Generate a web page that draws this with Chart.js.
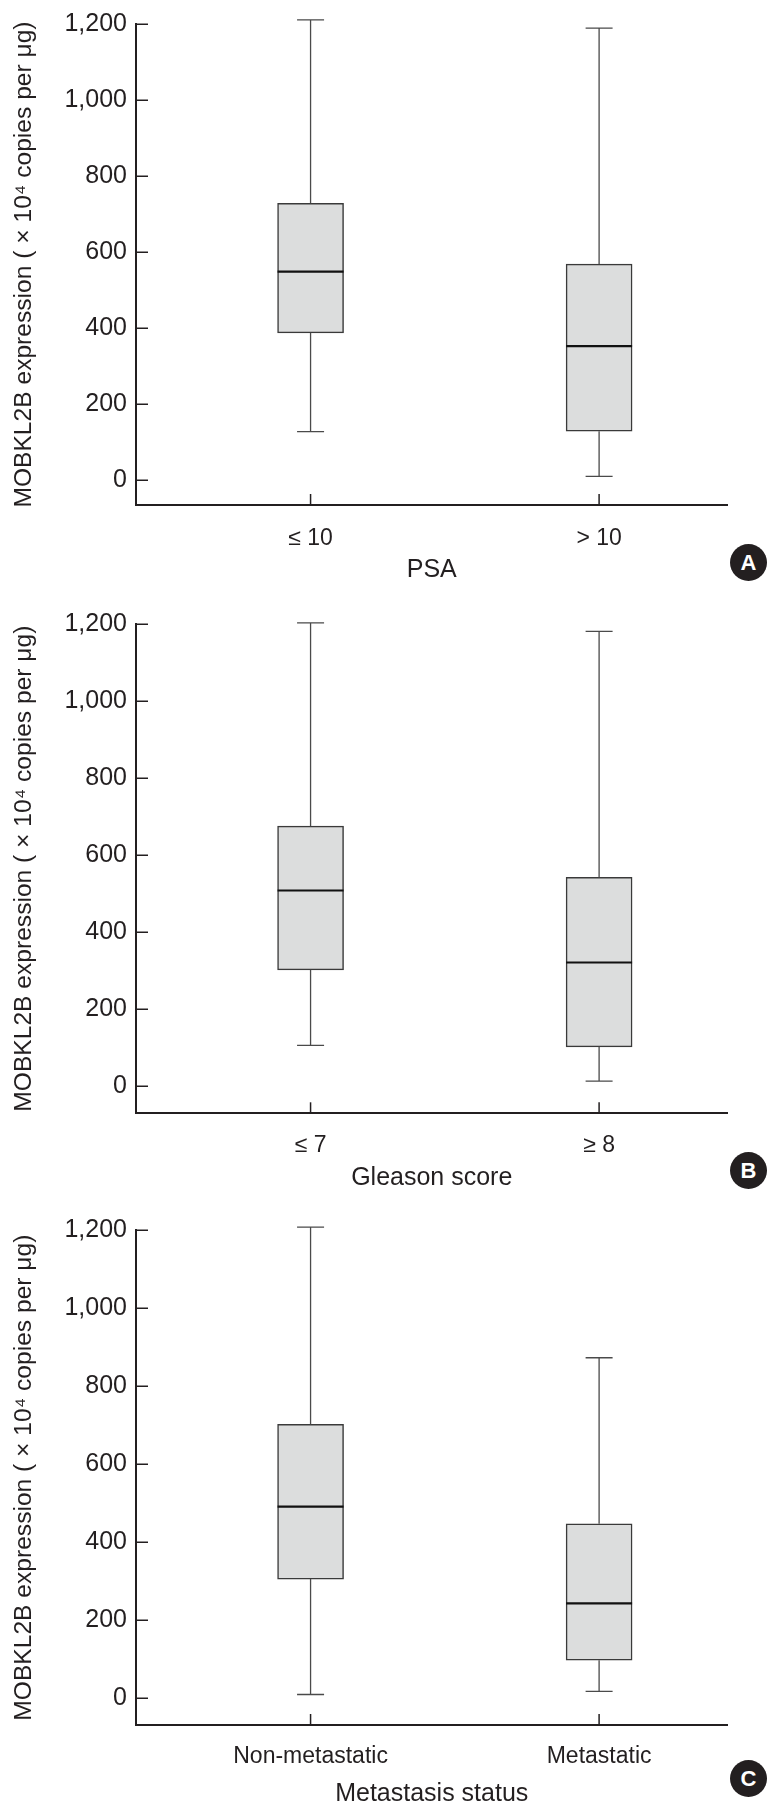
<!DOCTYPE html>
<html>
<head>
<meta charset="utf-8">
<script src="https://cdn.jsdelivr.net/npm/chart.js@4.4.1/dist/chart.umd.min.js"></script>
<style>
body { margin: 0; background: #fff; }
#wrap { position: relative; width: 771px; height: 1809px; }
.panel { position: absolute; left: 0; width: 771px; }
.tag { position: absolute; width: 37px; height: 37px; border-radius: 50%; background: #231f20; color: #fff;
       font: bold 22px "Liberation Sans", Arial, sans-serif; text-align: center; line-height: 37px; }
</style>
</head>
<body>
<div id="wrap">
    <div class="panel" style="top:0;height:600px"><canvas id="chartA"></canvas></div>
    <div class="panel" style="top:600px;height:605px"><canvas id="chartB"></canvas></div>
    <div class="panel" style="top:1205px;height:604px"><canvas id="chartC"></canvas></div>
    <div class="tag" style="left:730px;top:544px">A</div>
    <div class="tag" style="left:730px;top:1152px">B</div>
    <div class="tag" style="left:730px;top:1760px">C</div>
</div>
<script>
// values (x 10^4 copies per ug)
var psaLabels = ['\u2264 10', '> 10'];
var psaMin = [127, 9];
var psaQ1 = [387, 128];
var psaMedian = [548, 352];
var psaQ3 = [728, 568];
var psaMax = [1211, 1189];

var gleasonLabels = ['\u2264 7', '\u2265 8'];
var gleasonMin = [106, 13];
var gleasonQ1 = [302, 102];
var gleasonMedian = [508, 321];
var gleasonQ3 = [675, 542];
var gleasonMax = [1203, 1181];

var metLabels = ['Non-metastatic', 'Metastatic'];
var metMin = [9, 17];
var metQ1 = [305, 97];
var metMedian = [491, 243];
var metQ3 = [702, 447];
var metMax = [1208, 873];

var yTicks = [0, 200, 400, 600, 800, 1000, 1200];
var yTitle = 'MOBKL2B expression ( \u00d7 10\u2074 copies per \u03bcg)';

var axisColor = '#231f20';
var FONT = '"Liberation Sans", Arial, sans-serif';
var NARROW = '"Liberation Sans Narrow", "Arial Narrow", "Liberation Sans", sans-serif';
Chart.defaults.font.family = FONT;
Chart.defaults.color = axisColor;

// x range in category units, so the two boxes sit where they do in the figure
var X_MIN = 0.395, X_MAX = 2.445;
var PLOT_W = 591.5;
var unitPerPx = (X_MAX - X_MIN) / PLOT_W;
var BOX_PX = 66;
var CAP_PX = 27;

//tick marks point into the plot
var inwardTicks = {
    id: 'inwardTicks',
    afterDraw: function (chart) {
        var ctx = chart.ctx;
        var area = chart.chartArea;
        ctx.save();
        ctx.strokeStyle = axisColor;
        ctx.lineWidth = 1.5;
        chart.scales.y.ticks.forEach(function (t) {
            var py = Math.round(chart.scales.y.getPixelForValue(t.value)) + 0.25;
            ctx.beginPath();
            ctx.moveTo(area.left, py);
            ctx.lineTo(area.left + 12, py);
            ctx.stroke();
        });
        chart.scales.x.ticks.forEach(function (t) {
            var px = chart.scales.x.getPixelForValue(t.value);
            ctx.beginPath();
            ctx.moveTo(px, area.bottom);
            ctx.lineTo(px, area.bottom - 11);
            ctx.stroke();
        });
        ctx.restore();
    }
};

function makeBoxChart(canvasId, labels, mins, q1s, medians, q3s, maxs, xTitle, lay) {
    var xs = [1, 2];
    var capHalf = CAP_PX / 2 * unitPerPx;
    var boxHalf = BOX_PX / 2 * unitPerPx;
    var boxData = [];
    var whiskerData = [];
    var medianData = [];
    for (var i = 0; i < xs.length; i++) {
        var c = xs[i];
        boxData.push({ x: c, y: [q1s[i], q3s[i]] });
        whiskerData.push({ x: c, y: q3s[i] }, { x: c, y: maxs[i] }, { x: c, y: null });
        whiskerData.push({ x: c - capHalf, y: maxs[i] }, { x: c + capHalf, y: maxs[i] }, { x: c, y: null });
        whiskerData.push({ x: c, y: q1s[i] }, { x: c, y: mins[i] }, { x: c, y: null });
        whiskerData.push({ x: c - capHalf, y: mins[i] }, { x: c + capHalf, y: mins[i] }, { x: c, y: null });
        medianData.push({ x: c - boxHalf, y: medians[i] }, { x: c + boxHalf, y: medians[i] }, { x: c, y: null });
    }

    var ctx = document.getElementById(canvasId).getContext('2d');
    return new Chart(ctx, {
        type: 'bar',
        data: {
            datasets: [{
                type: 'bar',
                data: boxData,
                backgroundColor: '#dcdddd',
                borderColor: '#3a3a3a',
                borderWidth: 1.5,
                borderSkipped: false,
                barThickness: BOX_PX,
                order: 3
            }, {
                type: 'line',
                data: whiskerData,
                borderColor: '#4a4a4a',
                borderWidth: 1.3,
                pointRadius: 0,
                spanGaps: false,
                clip: false,
                order: 2
            }, {
                type: 'line',
                data: medianData,
                borderColor: '#111111',
                borderWidth: 2.2,
                pointRadius: 0,
                spanGaps: false,
                order: 1
            }]
        },
        options: {
            responsive: true,
            maintainAspectRatio: false,
            animation: false,
            layout: { padding: { top: lay.padTop, right: 771 - 136 - PLOT_W, bottom: 0, left: 0 } },
            plugins: { legend: { display: false }, tooltip: { enabled: false } },
            scales: {
                x: {
                    type: 'linear',
                    min: X_MIN,
                    max: X_MAX,
                    offset: false,
                    afterBuildTicks: function (scale) {
                        scale.ticks = xs.map(function (v) { return { value: v }; });
                    },
                    afterFit: function (scale) { scale.height = lay.xHeight; },
                    grid: { display: false, drawTicks: false },
                    border: { display: true, color: axisColor, width: 2 },
                    ticks: {
                        autoSkip: false,
                        maxRotation: 0,
                        padding: lay.tickPad,
                        font: { size: 23 },
                        color: axisColor,
                        callback: function (value, index) { return labels[index]; }
                    },
                    title: {
                        display: true,
                        text: xTitle,
                        color: axisColor,
                        font: { size: 25 },
                        padding: { top: 0, bottom: lay.titlePad }
                    }
                },
                y: {
                    min: lay.yMin,
                    max: 1200,
                    afterBuildTicks: function (scale) {
                        scale.ticks = yTicks.map(function (v) { return { value: v }; });
                    },
                    afterFit: function (scale) { scale.width = 136; },
                    grid: { display: false, drawTicks: false },
                    border: { display: true, color: axisColor, width: 2 },
                    ticks: {
                        padding: 9,
                        font: { size: 25, family: NARROW },
                        color: axisColor,
                        callback: function (value) { return value.toLocaleString('en-US'); }
                    },
                    title: {
                        display: true,
                        text: yTitle,
                        color: axisColor,
                        font: { size: 24.6 },
                        padding: { top: 9, bottom: 0 }
                    }
                }
            }
        },
        plugins: [inwardTicks]
    });
}

makeBoxChart('chartA', psaLabels, psaMin, psaQ1, psaMedian, psaQ3, psaMax, 'PSA',
    { padTop: 14, xHeight: 95, yMin: -66.3, tickPad: 19.5, titlePad: 15 });
makeBoxChart('chartB', gleasonLabels, gleasonMin, gleasonQ1, gleasonMedian, gleasonQ3, gleasonMax, 'Gleason score',
    { padTop: 22, xHeight: 91.7, yMin: -70.6, tickPad: 19, titlePad: 12 });
makeBoxChart('chartC', metLabels, metMin, metQ1, metMedian, metQ3, metMax, 'Metastasis status',
    { padTop: 25.3, xHeight: 84, yMin: -69.3, tickPad: 17.5, titlePad: 0 });
</script>
</body>
</html>
